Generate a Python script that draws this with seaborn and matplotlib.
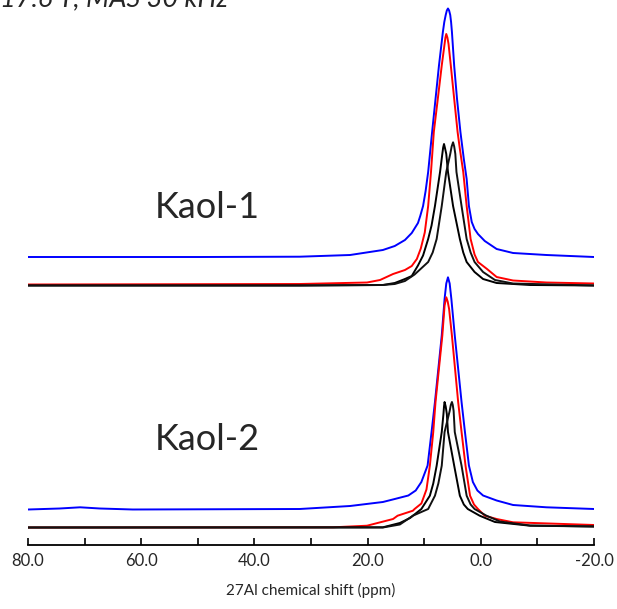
import pandas as pd
import matplotlib
matplotlib.use("Agg")
import matplotlib.pyplot as plt
import seaborn as sns
from matplotlib.ticker import MultipleLocator, FormatStrFormatter

# 27Al MAS NMR spectra (ppm, intensity above baseline)
k1_blue_ppm = [80.0, 49.6, 32.0, 23.1, 17.3, 15.2, 13.4, 12.2, 11.1, 10.7, 10.2, 9.75, 9.3, 8.6, 8.0, 7.4, 6.7,
               6.45, 6.2, 6.0, 5.8, 5.6, 5.4, 5.25, 5.1, 4.7, 4.2, 3.6, 3.0, 2.5, 2.1, 1.6, 1.1, 0.5, -0.7,
               -2.8, -5.7, -11.6, -20.0]
k1_blue_int = [0, 0, 0.3, 2, 7, 11, 17, 24, 34, 41, 51, 66, 85, 125, 158, 191, 225,
               235, 242, 246.5, 248.5, 246.5, 242, 235, 225, 191, 158, 125, 98, 78, 51, 35, 28, 23, 16,
               8, 4, 2, 0]

k1_red_ppm = [80.0, 32.0, 20.1, 17.8, 15.5, 13.4, 12.2, 11.3, 10.6, 9.9, 9.3, 8.8, 8.3, 7.6, 6.9, 6.4, 6.25,
              6.1, 5.9, 5.7, 5.3, 4.7, 4.1, 3.7, 3.1, 2.5, 1.8, 1.1, 0.5, -1.1, -2.8, -5.7, -11.6, -20.0]
k1_red_int = [0, 0.5, 2, 4.5, 10.5, 14.5, 18.5, 25.5, 36, 52, 78.5, 112.5, 152.5, 185.5, 219, 240.5, 247,
              250.5, 247, 240.5, 219, 185.5, 152.5, 135.5, 112.5, 78.5, 45.5, 30, 22.5, 15.5, 7.5, 4, 2, 1]

k1_blackA_ppm = [80.0, 32.0, 17.3, 15.2, 13.4, 12.2, 11.1, 10.2, 9.3, 8.7, 8.1, 7.2, 6.8, 6.65, 6.5,
                 6.35, 6.1, 5.8, 4.9, 3.7, 3.1, 2.5, 1.1, -0.4, -2.8, -8.7, -20.0]
k1_blackA_int = [0, 0, 0.5, 2.5, 6.5, 9.5, 20, 30, 46.5, 60, 79.5, 113.5, 131.5, 138, 141.5,
                 138, 131.5, 113.5, 79.5, 46.5, 33, 23.5, 13.5, 6.5, 2.5, 0.5, 0]

k1_blackB_ppm = [80.0, 32.0, 17.3, 15.2, 13.4, 11.7, 9.3, 8.5, 7.8, 6.9, 6.1, 5.4, 5.15, 4.9,
                 4.7, 4.5, 4.3, 3.4, 2.5, 1.8, 1.1, -0.4, -2.5, -5.7, -20.0]
k1_blackB_int = [0, 0, 0.5, 1.5, 4.5, 11, 23.5, 33, 46.5, 79.5, 113.5, 131.5, 139, 143.2,
                 139, 131.5, 113.5, 79.5, 46.5, 33, 23.5, 13.5, 5.5, 2, 0]

k2_blue_ppm = [80.0, 74.4, 70.8, 67.3, 61.5, 32.0, 23.1, 17.3, 15.2, 12.8, 11.5, 10.5, 9.4, 8.7, 8.1, 6.9, 6.4,
               6.1, 5.8, 5.5, 5.2, 4.6, 3.4, 2.8, 2.1, 1.4, 0.6, -0.4, -2.8, -5.7, -11.6, -20.0]
k2_blue_int = [0, 1, 2.2, 1, 0, 0.5, 3.5, 7.5, 10.5, 14, 19, 27.5, 44, 77.5, 107.5, 174, 210.5,
               226, 232.2, 226, 210.5, 174, 107.5, 77.5, 44, 27.5, 19, 14, 9, 4.5, 2.2, 0.5]

k2_red_ppm = [80.0, 26.1, 20.1, 15.5, 14.7, 12.0, 11.7, 10.5, 9.6, 9.0, 8.4, 8.0, 6.8, 6.4, 6.1,
              5.85, 5.6, 5.1, 4.0, 3.4, 2.7, 1.9, 1.2, 0.5, -0.7, -2.8, -5.7, -20.0]
k2_red_int = [0, 0.2, 1.8, 8.5, 11.8, 16.8, 18.5, 24, 38, 61.8, 95.5, 125.5, 191.8, 222, 230.2,
              226, 218.5, 191.8, 125.5, 95.5, 61.8, 31.8, 23, 18.5, 11.8, 8.5, 5.2, 2.5]

k2_blackA_ppm = [80.0, 17.3, 14.3, 12.5, 10.5, 9.0, 8.4, 7.8, 6.9, 6.6, 6.5, 6.4,
                 6.2, 6.0, 5.8, 4.7, 3.7, 3.0, 2.3, 0.2, -2.5, -8.7, -20.0]
k2_blackA_int = [0, 0.2, 4.5, 9.5, 18.5, 31.8, 44, 61.8, 95.5, 113.5, 121, 125.5,
                 121, 113.5, 95.5, 61.8, 31.8, 23, 18.5, 11.8, 5.5, 1.8, 1]

k2_blackB_ppm = [80.0, 17.3, 14.3, 12.0, 9.3, 8.1, 7.5, 6.9, 6.4, 5.5, 5.3, 5.1,
                 4.95, 4.8, 4.6, 3.4, 2.5, 1.8, 1.1, -1.0, -3.4, -8.7, -20.0]
k2_blackB_int = [0, 0, 3, 11.8, 18.5, 31.8, 44, 61.8, 95.5, 116.5, 122.5, 125.5,
                 122.5, 116.5, 95.5, 61.8, 31.8, 23, 18.5, 11.8, 6, 2, 1]

# vertical offset of each trace (stacked plot)
offsets = {"k1_blue": 288, "k1_red": 260.5, "k1_blackA": 259.5, "k1_blackB": 259.5,
           "k2_blue": 35.5, "k2_red": 17.5, "k2_blackA": 17.5, "k2_blackB": 17.5}

traces = {
    "k1_blue": (k1_blue_ppm, k1_blue_int), "k1_red": (k1_red_ppm, k1_red_int),
    "k1_blackA": (k1_blackA_ppm, k1_blackA_int), "k1_blackB": (k1_blackB_ppm, k1_blackB_int),
    "k2_blue": (k2_blue_ppm, k2_blue_int), "k2_red": (k2_red_ppm, k2_red_int),
    "k2_blackA": (k2_blackA_ppm, k2_blackA_int), "k2_blackB": (k2_blackB_ppm, k2_blackB_int),
}

frames = []
for name, (ppm, inten) in traces.items():
    frames.append(pd.DataFrame({"ppm": ppm, "y": [v + offsets[name] for v in inten], "trace": name}))
df = pd.concat(frames, ignore_index=True)

palette = {"k1_blue": "#0000ff", "k1_red": "#ff0000", "k1_blackA": "#000000", "k1_blackB": "#111111",
           "k2_blue": "#0000ff", "k2_red": "#ff0000", "k2_blackA": "#000000", "k2_blackB": "#111111"}

sns.set_theme(style="white")
plt.rcParams["font.family"] = ["Lato", "DejaVu Sans"]
plt.rcParams["axes.unicode_minus"] = False

fig = plt.figure(figsize=(6.17, 6.09), dpi=100)
ax = fig.add_axes([28 / 617, (609 - 545) / 609, (594 - 28) / 617, 545 / 609])

sns.lineplot(data=df, x="ppm", y="y", hue="trace", palette=palette, hue_order=list(traces.keys()),
             estimator=None, sort=False, legend=False, linewidth=1.4, ax=ax)
for line in ax.lines:
    line.set_solid_joinstyle("round")

ax.set_xlim(80, -20)
ax.set_ylim(0, 545)
ax.set_yticks([])
ax.set_ylabel("")
for side in ["left", "right", "top"]:
    ax.spines[side].set_visible(False)
ax.spines["bottom"].set_color("black")
ax.spines["bottom"].set_linewidth(1.3)
ax.patch.set_alpha(0)

ax.xaxis.set_major_locator(MultipleLocator(20))
ax.xaxis.set_minor_locator(MultipleLocator(10))
ax.xaxis.set_major_formatter(FormatStrFormatter("%.1f"))
ax.tick_params(axis="x", which="both", direction="in", length=5, width=1.2, color="black",
               bottom=True, labelsize=12, pad=6)
ax.set_xlabel("27Al chemical shift (ppm)", fontsize=11, labelpad=10)

ax.text(0.316, 0.62, "Kaol-1", transform=ax.transAxes, fontsize=26, ha="center", va="center")
ax.text(0.316, 0.193, "Kaol-2", transform=ax.transAxes, fontsize=26, ha="center", va="center")
fig.text(0.0, 1 - 6 / 609, "17.6 T, MAS 30 kHz", fontsize=19.5, style="italic", ha="left", va="baseline")

fig.savefig("out.png", dpi=100)
